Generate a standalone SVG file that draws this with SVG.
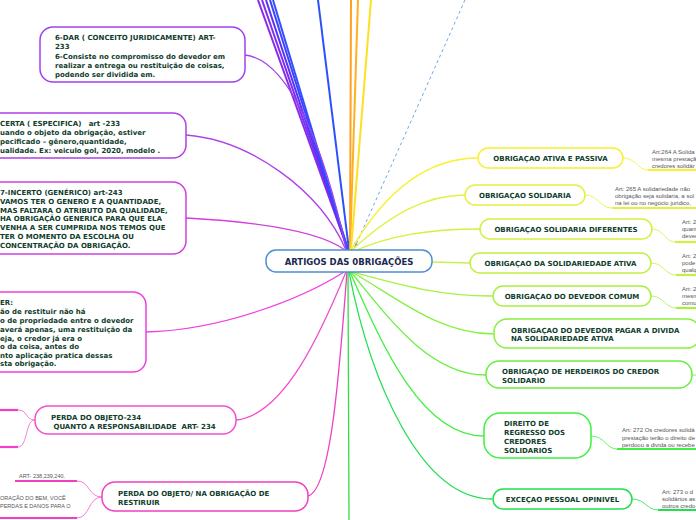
<svg xmlns="http://www.w3.org/2000/svg" width="696" height="520" viewBox="0 0 696 520">
<style>
.t{font-family:"DejaVu Sans",Verdana,sans-serif;font-weight:bold;font-size:7px;fill:#0f3d2b;white-space:pre}
.s{font-family:"Liberation Sans",Arial,sans-serif;font-size:6px;fill:#555}
.c{fill:none;stroke-width:1.3}
.tl{fill:none;stroke-width:2}
.b{fill:#fff;stroke-width:1.5}
.u{fill:none;stroke-width:2.2}
.w{fill:none;stroke-width:0.8}
</style>
<defs>
<marker id="ah" viewBox="0 0 6 6" refX="5" refY="3" markerWidth="5" markerHeight="5" orient="auto"><path d="M0,0 L6,3 L0,6 z" fill="#6aa8e8"/></marker>
</defs>
<rect width="696" height="520" fill="#fff"/>
<g id="connectors">
<path class="tl" stroke="#8a2be8" d="M348,250 L258,0"/>
<path class="tl" stroke="#7a30f0" d="M348,250 L262,0"/>
<path class="tl" stroke="#5a30f8" d="M348,250 L266,0"/>
<path class="tl" stroke="#4040ff" d="M348,250 L270,0"/>
<path class="tl" stroke="#3050ff" d="M348,250 L273,0"/>
<path class="tl" stroke="#2a50ff" d="M349,250 L318,0"/>
<path class="tl" stroke="#ffa020" d="M350,250 L351,0"/>
<path class="tl" stroke="#ffb020" d="M350,250 L358,0"/>
<path class="tl" stroke="#ffe020" d="M351,250 L371,0"/>
<path fill="none" stroke="#6aa8e8" stroke-width="1" stroke-dasharray="3,3" d="M465,0 L355,247" marker-end="url(#ah)"/>
<path class="c" stroke="#a040f0" d="M245,55 C290,60 325,150 346,249"/>
<path class="c" stroke="#b040e8" d="M186,135 C250,140 320,190 346,250"/>
<path class="c" stroke="#d040e0" d="M186,218 C260,222 320,232 345,250"/>
<path class="c" stroke="#f040e0" d="M146,332 C220,330 300,300 344,272"/>
<path class="c" stroke="#f050d0" d="M236,420 C285,415 322,330 346,272"/>
<path class="c" stroke="#f040c0" d="M308,496 C332,490 340,360 347,272"/>
<path class="c" stroke="#30e040" d="M348,272 L349,520"/>
<path class="c" stroke="#f8f030" d="M351,250 C380,200 420,158 478,158"/>
<path class="c" stroke="#e4f040" d="M352,250 C390,215 425,195 465,195"/>
<path class="c" stroke="#d4f040" d="M352,252 C390,235 430,229 480,229"/>
<path class="c" stroke="#c8f050" d="M432,262 L470,263"/>
<path class="c" stroke="#a8f040" d="M352,272 C400,285 440,296 492,296"/>
<path class="c" stroke="#88f040" d="M352,272 C400,300 440,334 494,334"/>
<path class="c" stroke="#68f040" d="M351,272 C390,320 430,375 486,375"/>
<path class="c" stroke="#40f040" d="M350,272 C380,340 420,436 484,436"/>
<path class="c" stroke="#20e050" d="M349,272 C370,380 420,499 492,499"/>
<path class="w" stroke="#f8f030" d="M623,158 C636,158 638,170 648,170"/>
<path class="u" stroke="#f8f030" d="M648,170 L696,170"/>
<path class="w" stroke="#e4f040" d="M585,195 C598,195 600,208 612,208"/>
<path class="u" stroke="#e4f040" d="M612,208 L696,208"/>
<path class="w" stroke="#d4f040" d="M652,229 C664,229 665,242 675,242"/>
<path class="u" stroke="#d4f040" d="M675,242 L696,242"/>
<path class="w" stroke="#c0f040" d="M651,263 C664,263 665,275 676,275"/>
<path class="u" stroke="#c0f040" d="M676,275 L696,275"/>
<path class="w" stroke="#a8f040" d="M651,296 C664,296 665,308 676,308"/>
<path class="u" stroke="#a8f040" d="M676,308 L696,308"/>
<path class="w" stroke="#68f040" d="M692,375 L696,375"/>
<path class="w" stroke="#40f040" d="M591,436 C605,436 606,449 617,449"/>
<path class="u" stroke="#40f040" d="M617,449 L696,449"/>
<path class="w" stroke="#20e050" d="M632,499 C645,499 647,510 658,510"/>
<path class="u" stroke="#20e050" d="M658,510 L696,510"/>
<path class="w" stroke="#f060d0" d="M35,420 C25,420 28,410 18,410"/>
<path class="w" stroke="#f060d0" d="M35,420 C25,420 28,447 18,447"/>
<path class="u" stroke="#f040c8" d="M0,410 L18,410"/>
<path class="u" stroke="#f040c8" d="M0,447 L18,447"/>
<path class="w" stroke="#f060c8" d="M102,497 C88,497 90,481 77,481"/>
<path class="w" stroke="#f060c8" d="M102,497 C88,497 90,518 77,518"/>
<path class="u" stroke="#f040c0" d="M15,481 L77,481"/>
<path class="u" stroke="#f040c0" d="M0,518 L77,518"/>
</g>
<g id="center">
<rect class="b" x="266" y="250" width="166" height="22" rx="10" stroke="#4a90d0"/>
<text x="349" y="264.5" text-anchor="middle" style="font-family:'DejaVu Sans',Verdana,sans-serif;font-weight:bold;font-size:8.5px;fill:#1a2a50">ARTIGOS DAS 0BRIGAÇÕES</text>
</g>
<g id="n-dar">
<rect class="b" x="40" y="27" width="205" height="55" rx="13" stroke="#a040f0"/>
<text class="t" x="55" y="40">6-DAR ( CONCEITO JURIDICAMENTE) ART-</text>
<text class="t" x="55" y="49">233</text>
<text class="t" x="55" y="58.5">6-Consiste no compromisso do devedor em</text>
<text class="t" x="55" y="67.5">realizar a entrega ou restituição de coisas,</text>
<text class="t" x="55" y="77">podendo ser dividida em.</text>
</g>
<g id="n-certa">
<rect class="b" x="-20" y="113" width="206" height="45" rx="13" stroke="#b040e8"/>
<text class="t" x="0" y="125.5">CERTA ( ESPECIFICA)   art -233</text>
<text class="t" x="0" y="134.5">uando o objeto da obrigação, estiver</text>
<text class="t" x="0" y="143.5">pecificado – gênero,quantidade,</text>
<text class="t" x="0" y="152.5">ualidade. Ex: veiculo gol, 2020, modelo .</text>
</g>
<g id="n-incerto">
<rect class="b" x="-20" y="182" width="206" height="72" rx="13" stroke="#d040e0"/>
<text class="t" x="0" y="195">7-INCERTO (GENÉRICO) art-243</text>
<text class="t" x="0" y="203.8">VAMOS TER O GENERO E A QUANTIDADE,</text>
<text class="t" x="0" y="212.6">MAS FALTARA O ATRIBUTO DA QUALIDADE,</text>
<text class="t" x="0" y="221.4">HA OBRIGAÇÃO GENERICA PARA QUE ELA</text>
<text class="t" x="0" y="230.2">VENHA A SER CUMPRIDA NOS TEMOS QUE</text>
<text class="t" x="0" y="239">TER O MOMENTO DA ESCOLHA OU</text>
<text class="t" x="0" y="247.8">CONCENTRAÇÃO DA OBRIGAÇÃO.</text>
</g>
<g id="n-restituir">
<rect class="b" x="-20" y="292" width="166" height="80" rx="13" stroke="#f040e0"/>
<text class="t" x="0" y="305">ER:</text>
<text class="t" x="0" y="314">ão de restituir não há</text>
<text class="t" x="0" y="323">o de propriedade entre o devedor</text>
<text class="t" x="0" y="331.5">averá apenas, uma restituição da</text>
<text class="t" x="0" y="340.5">eja, o credor já era o</text>
<text class="t" x="0" y="349">o da coisa, antes do</text>
<text class="t" x="0" y="357.5">nto aplicação pratica dessas</text>
<text class="t" x="0" y="366">sta obrigação.</text>
</g>
<g id="n-perda234">
<rect class="b" x="35" y="406" width="201" height="28" rx="13" stroke="#f050d0"/>
<text class="t" x="51" y="420">PERDA DO OBJETO-234</text>
<text class="t" x="51" y="429"> QUANTO A RESPONSABILIDADE  ART- 234</text>
</g>
<g id="n-perda-restituir">
<rect class="b" x="102" y="482" width="206" height="29" rx="13" stroke="#f040c0"/>
<text class="t" x="118" y="496">PERDA DO OBJETO/ NA OBRIGAÇÃO DE</text>
<text class="t" x="118" y="505">RESTIRUIR</text>
</g>
<g id="sub-left">
<text class="s" x="19" y="478" style="font-size:5.5px">ART- 238,239,240.</text>
<text class="s" x="0" y="500" style="font-size:5.5px">ORAÇÃO DO BEM, VOCÊ</text>
<text class="s" x="0" y="508" style="font-size:5.5px">PERDAS E DANOS PARA O</text>
</g>
<g id="n-ativa-passiva">
<rect class="b" x="478" y="148" width="145" height="20" rx="10" stroke="#f8f030"/>
<text class="t" x="550.5" y="160.5" text-anchor="middle">OBRIGAÇAO ATIVA E PASSIVA</text>
<text class="s" x="652" y="154">Art:264 A Solida</text>
<text class="s" x="652" y="161">mesma prestaçã</text>
<text class="s" x="652" y="168">credores solidár</text>
</g>
<g id="n-solidaria">
<rect class="b" x="465" y="185" width="120" height="20" rx="10" stroke="#e4f040"/>
<text class="t" x="525" y="197.5" text-anchor="middle">OBRIGAÇAO SOLIDARIA</text>
<text class="s" x="615" y="191">Art: 265 A solidariedade não</text>
<text class="s" x="615" y="198">obrigação seja solidaria, a sol</text>
<text class="s" x="615" y="205">na lei ou no negócio juridico,</text>
</g>
<g id="n-diferentes">
<rect class="b" x="480" y="219" width="172" height="20" rx="10" stroke="#d4f040"/>
<text class="t" x="566" y="231.5" text-anchor="middle">OBRIGAÇAO SOLIDARIA DIFERENTES</text>
<text class="s" x="682" y="224">Art: 2</text>
<text class="s" x="682" y="231">quant</text>
<text class="s" x="682" y="238">deved</text>
</g>
<g id="n-sol-ativa">
<rect class="b" x="470" y="253" width="181" height="20" rx="10" stroke="#c0f040"/>
<text class="t" x="560.5" y="265.5" text-anchor="middle">OBRIGAÇAO DA SOLIDARIEDADE ATIVA</text>
<text class="s" x="682" y="258">Art: 2</text>
<text class="s" x="682" y="265">pode</text>
<text class="s" x="682" y="272">qualq</text>
</g>
<g id="n-devedor-comum">
<rect class="b" x="493" y="286" width="158" height="20" rx="10" stroke="#a8f040"/>
<text class="t" x="572" y="298.5" text-anchor="middle">OBRIGAÇAO DO DEVEDOR COMUM</text>
<text class="s" x="682" y="291">Art: 2</text>
<text class="s" x="682" y="298">mesm</text>
<text class="s" x="682" y="305">comu</text>
</g>
<g id="n-pagar">
<rect class="b" x="494" y="319" width="206" height="29" rx="13" stroke="#88f040"/>
<text class="t" x="511" y="332.5">OBRIGAÇAO DO DEVEDOR PAGAR A DIVIDA</text>
<text class="t" x="511" y="341">NA SOLIDARIEDADE ATIVA</text>
</g>
<g id="n-herdeiros">
<rect class="b" x="486" y="361" width="206" height="27" rx="13" stroke="#68f040"/>
<text class="t" x="502" y="374">OBRIGAÇAO DE HERDEIROS DO CREDOR</text>
<text class="t" x="502" y="382.5">SOLIDARIO</text>
</g>
<g id="n-regresso">
<rect class="b" x="484" y="413" width="107" height="45" rx="16" stroke="#40f040"/>
<text class="t" x="504" y="426">DIREITO DE</text>
<text class="t" x="504" y="435">REGRESSO DOS</text>
<text class="t" x="504" y="444">CREDORES</text>
<text class="t" x="504" y="452.5">SOLIDARIOS</text>
<text class="s" x="622" y="432">Art: 272 Os credores solidá</text>
<text class="s" x="622" y="439.5">prestação terão o direito de</text>
<text class="s" x="622" y="447">perdoou a divida ou recebe</text>
</g>
<g id="n-excecao">
<rect class="b" x="493" y="489" width="139" height="20" rx="10" stroke="#20e050"/>
<text class="t" x="562.5" y="501.5" text-anchor="middle">EXCEÇAO PESSOAL OPINIVEL</text>
<text class="s" x="662" y="494">Art: 273 o d</text>
<text class="s" x="662" y="501">solidários as</text>
<text class="s" x="662" y="508">outros credo</text>
</g>
</svg>
